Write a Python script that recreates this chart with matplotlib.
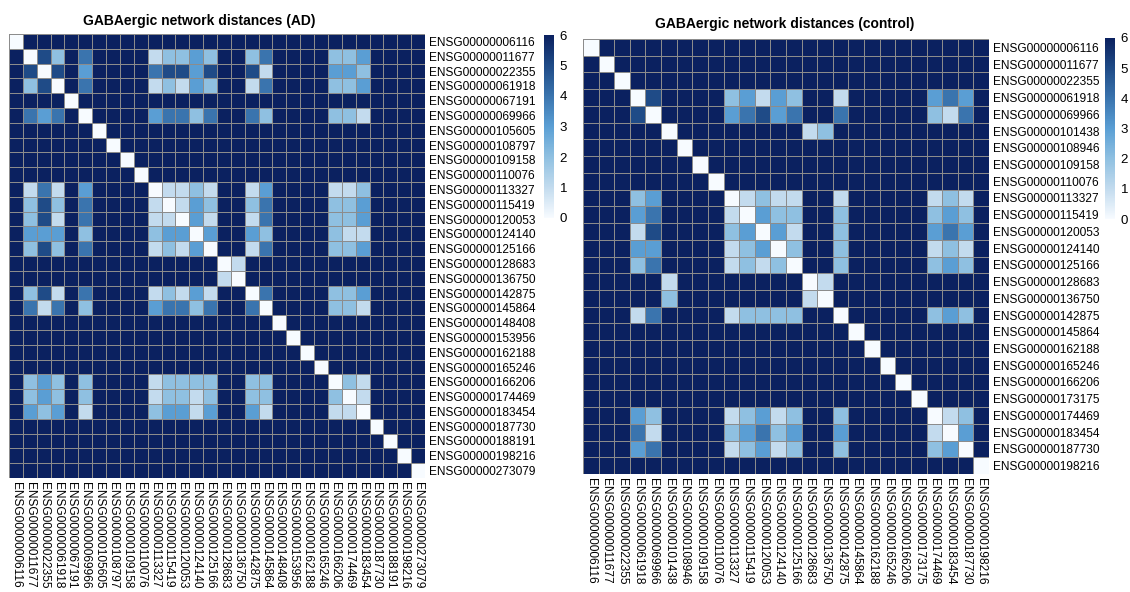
import numpy as np
import matplotlib
matplotlib.use("Agg")
import matplotlib.pyplot as plt
from matplotlib.colors import LinearSegmentedColormap

plt.rcParams['font.family'] = ['Liberation Sans', 'DejaVu Sans']

# ---------------- data ----------------
ad_genes = ["ENSG00000006116", "ENSG00000011677", "ENSG00000022355", "ENSG00000061918",
            "ENSG00000067191", "ENSG00000069966", "ENSG00000105605", "ENSG00000108797",
            "ENSG00000109158", "ENSG00000110076", "ENSG00000113327", "ENSG00000115419",
            "ENSG00000120053", "ENSG00000124140", "ENSG00000125166", "ENSG00000128683",
            "ENSG00000136750", "ENSG00000142875", "ENSG00000145864", "ENSG00000148408",
            "ENSG00000153956", "ENSG00000162188", "ENSG00000165246", "ENSG00000166206",
            "ENSG00000174469", "ENSG00000183454", "ENSG00000187730", "ENSG00000188191",
            "ENSG00000198216", "ENSG00000273079"]

ctrl_genes = ["ENSG00000006116", "ENSG00000011677", "ENSG00000022355", "ENSG00000061918",
              "ENSG00000069966", "ENSG00000101438", "ENSG00000108946", "ENSG00000109158",
              "ENSG00000110076", "ENSG00000113327", "ENSG00000115419", "ENSG00000120053",
              "ENSG00000124140", "ENSG00000125166", "ENSG00000128683", "ENSG00000136750",
              "ENSG00000142875", "ENSG00000145864", "ENSG00000162188", "ENSG00000165246",
              "ENSG00000166206", "ENSG00000173175", "ENSG00000174469", "ENSG00000183454",
              "ENSG00000187730", "ENSG00000198216"]

no_path = 6  # distance shown for unconnected pairs

# AD: connected component (indices into ad_genes) and its distances
ad_comp1 = [1, 2, 3, 5, 10, 11, 12, 13, 14, 17, 18, 23, 24, 25]
ad_dist1 = [
    [0, 5, 2, 4, 1, 2, 2, 3, 2, 2, 4, 2, 2, 3],
    [5, 0, 5, 3, 4, 5, 5, 3, 5, 5, 1, 3, 3, 2],
    [2, 5, 0, 4, 1, 2, 1, 3, 2, 1, 4, 2, 2, 3],
    [4, 3, 4, 0, 3, 4, 4, 2, 4, 4, 2, 2, 2, 1],
    [1, 4, 1, 3, 0, 1, 1, 2, 1, 1, 3, 1, 1, 2],
    [2, 5, 2, 4, 1, 0, 1, 3, 2, 2, 4, 2, 2, 3],
    [2, 5, 1, 4, 1, 1, 0, 3, 1, 1, 4, 2, 2, 3],
    [3, 3, 3, 2, 2, 3, 3, 0, 3, 3, 2, 2, 1, 1],
    [2, 5, 2, 4, 1, 2, 1, 3, 0, 1, 4, 2, 2, 3],
    [2, 5, 1, 4, 1, 2, 1, 3, 1, 0, 4, 2, 2, 3],
    [4, 1, 4, 2, 3, 4, 4, 2, 4, 4, 0, 2, 2, 1],
    [2, 3, 2, 2, 1, 2, 2, 2, 2, 2, 2, 0, 2, 1],
    [2, 3, 2, 2, 1, 2, 2, 1, 2, 2, 2, 2, 0, 1],
    [3, 2, 3, 1, 2, 3, 3, 1, 3, 3, 1, 1, 1, 0],
]
ad_comp2 = [15, 16]
ad_dist2 = [[0, 1], [1, 0]]

# control
ctrl_comp1 = [3, 4, 9, 10, 11, 12, 13, 16, 22, 23, 24]
ctrl_dist1 = [
    [0, 5, 2, 3, 1, 3, 2, 1, 3, 4, 3],
    [5, 0, 3, 4, 5, 3, 4, 4, 2, 1, 4],
    [2, 3, 0, 1, 2, 1, 1, 1, 1, 2, 1],
    [3, 4, 1, 0, 3, 2, 2, 2, 2, 3, 2],
    [1, 5, 2, 3, 0, 3, 1, 2, 3, 4, 3],
    [3, 3, 1, 2, 3, 0, 2, 2, 1, 2, 1],
    [2, 4, 1, 2, 1, 2, 0, 2, 2, 3, 2],
    [1, 4, 1, 2, 2, 2, 2, 0, 2, 3, 2],
    [3, 2, 1, 2, 3, 1, 2, 2, 0, 1, 2],
    [4, 1, 2, 3, 4, 2, 3, 3, 1, 0, 3],
    [3, 4, 1, 2, 3, 1, 2, 2, 2, 3, 0],
]
ctrl_comp2 = [5, 14, 15]
ctrl_dist2 = [[0, 1, 2], [1, 0, 1], [2, 1, 0]]


def build(n, comps):
    m = np.full((n, n), float(no_path))
    np.fill_diagonal(m, 0)
    for idx, d in comps:
        idx = np.array(idx)
        m[np.ix_(idx, idx)] = np.array(d, float)
    return m


ad_mat = build(len(ad_genes), [(ad_comp1, ad_dist1), (ad_comp2, ad_dist2)])
ctrl_mat = build(len(ctrl_genes), [(ctrl_comp1, ctrl_dist1), (ctrl_comp2, ctrl_dist2)])

cmap = LinearSegmentedColormap.from_list(
    "dist", ["#f7fbff", "#c2dbee", "#8fc0e1", "#5a9fd4", "#3a74ae", "#1f4b87", "#0b2160"])

W, H = 1130, 592
fig = plt.figure(figsize=(W / 100, H / 100), dpi=100)


def fx(x):
    return x / W


def fy(y):
    return 1 - y / H


def panel(mat, genes, box, cbox, title, title_xy):
    x0, y0, x1, y1 = box
    ax = fig.add_axes([fx(x0), fy(y1), fx(x1 - x0), (y1 - y0) / H])
    n = len(genes)
    mesh = ax.pcolormesh(np.arange(n + 1), np.arange(n + 1), mat, cmap=cmap,
                         vmin=0, vmax=6, edgecolors="#8c8c8c", linewidth=0.6)
    ax.set_xlim(0, n)
    ax.set_ylim(n, 0)
    for s in ax.spines.values():
        s.set_visible(False)
    ax.set_xticks(np.arange(n) + 0.5)
    ax.set_xticklabels(genes, rotation=-90, fontsize=8.6, ha="center", va="top")
    ax.set_yticks(np.arange(n) + 0.5)
    ax.set_yticklabels(genes, fontsize=8.6)
    ax.yaxis.tick_right()
    ax.tick_params(axis="both", length=0, pad=3)
    cx0, cy0, cx1, cy1 = cbox
    cax = fig.add_axes([fx(cx0), fy(cy1), fx(cx1 - cx0), (cy1 - cy0) / H])
    cb = fig.colorbar(mesh, cax=cax, ticks=range(0, 7))
    cb.outline.set_visible(False)
    cax.tick_params(length=0, labelsize=9.5, pad=4)
    fig.text(fx(title_xy[0]), fy(title_xy[1]), title, ha="center", va="center",
             fontsize=10, fontweight="bold")


panel(ad_mat, ad_genes, (9, 34, 425, 478), (544, 35, 554, 218),
      "GABAergic network distances (AD)", (199, 21))
panel(ctrl_mat, ctrl_genes, (583, 39, 989, 474), (1105, 38, 1115, 219),
      "GABAergic network distances (control)", (785, 24))

fig.savefig("out.png", dpi=100)
